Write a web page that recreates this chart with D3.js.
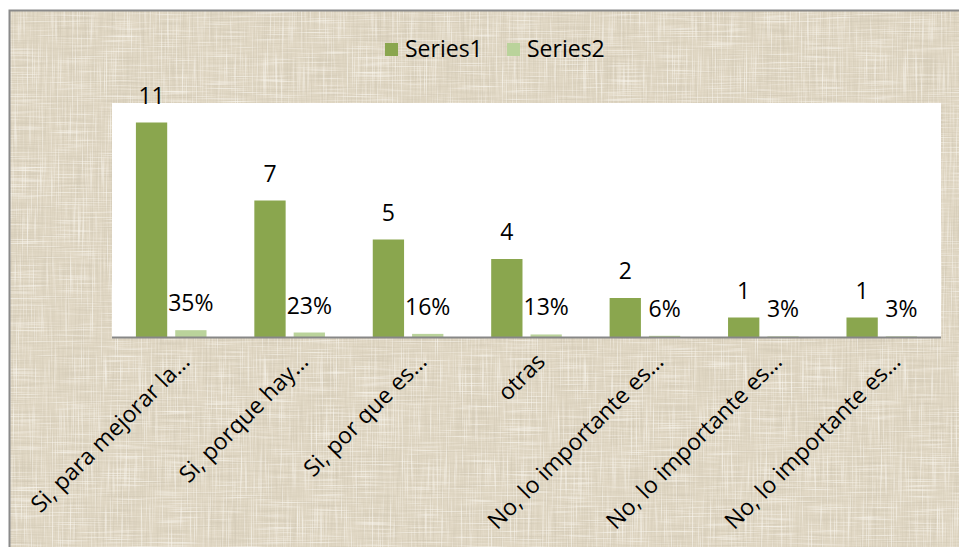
<!DOCTYPE html>
<html>
<head>
<meta charset="utf-8">
<script src="https://cdn.jsdelivr.net/npm/d3@7"></script>
<style>
  html, body { margin: 0; padding: 0; background: #ffffff; }
  svg { display: block; }
  text { font-family: "Open Sans", "Lato", sans-serif; fill: #000; }
</style>
</head>
<body>
<svg id="chart" width="959" height="547"></svg>
<script>
// Chart data
const categories = [
  "Si, para mejorar la…",
  "Si, porque hay…",
  "Si, por que es…",
  "otras",
  "No, lo importante es…",
  "No, lo importante es…",
  "No, lo importante es…"
];
const seriesNames = ["Series1", "Series2"];
const series1 = [11, 7, 5, 4, 2, 1, 1];
const series2 = [0.35, 0.23, 0.16, 0.13, 0.06, 0.03, 0.03];
const yDomain = [0, 12];

const colors = { Series1: "#8aa64e", Series2: "#bad39b" };

const W = 959, H = 547;
const plot = { left: 112, right: 941, top: 103, bottom: 337 };
const fontSize = "23px";

const svg = d3.select("#chart");
const defs = svg.append("defs");

// Woven linen texture for the chart area
const f = defs.append("filter").attr("id", "linen")
  .attr("x", 0).attr("y", 0).attr("width", 1).attr("height", 1);
f.append("feTurbulence").attr("type", "fractalNoise")
  .attr("baseFrequency", "0.02 0.8").attr("numOctaves", 2).attr("seed", 4).attr("result", "nh");
f.append("feTurbulence").attr("type", "fractalNoise")
  .attr("baseFrequency", "0.8 0.02").attr("numOctaves", 2).attr("seed", 9).attr("result", "nv");
// darker threads
const dark = "0 0 0 0 0.64  0 0 0 0 0.58  0 0 0 0 0.46  2.0 0 0 0 -0.98";
// lighter threads
const light = "0 0 0 0 0.97  0 0 0 0 0.95  0 0 0 0 0.90  -1.9 0 0 0 0.86";
f.append("feColorMatrix").attr("in", "nh").attr("type", "matrix").attr("values", dark).attr("result", "dh");
f.append("feColorMatrix").attr("in", "nv").attr("type", "matrix").attr("values", dark).attr("result", "dv");
f.append("feColorMatrix").attr("in", "nh").attr("type", "matrix").attr("values", light).attr("result", "lh");
f.append("feColorMatrix").attr("in", "nv").attr("type", "matrix").attr("values", light).attr("result", "lv");
const merge = f.append("feMerge");
["SourceGraphic", "dh", "dv", "lh", "lv"].forEach(n => merge.append("feMergeNode").attr("in", n));

// Chart area background with border
svg.append("rect")
  .attr("x", 9).attr("y", 10).attr("width", W).attr("height", H)
  .attr("fill", "#e1d8c5")
  .attr("filter", "url(#linen)");
svg.append("rect")
  .attr("x", 9.5).attr("y", 10.5).attr("width", W).attr("height", H)
  .attr("fill", "none").attr("stroke", "#8a8a8a").attr("stroke-width", 2);

// Plot area
svg.append("rect")
  .attr("x", plot.left).attr("y", plot.top)
  .attr("width", plot.right - plot.left).attr("height", plot.bottom - plot.top)
  .attr("fill", "#ffffff");

// Scales
const x0 = d3.scaleBand().domain(d3.range(categories.length))
  .range([plot.left, plot.right]).padding(0);
const x1 = d3.scaleBand().domain(seriesNames)
  .range([0, x0.bandwidth()]).paddingInner(0.204).paddingOuter(0.608);
const y = d3.scaleLinear().domain(yDomain).range([plot.bottom, plot.top]);

const rows = categories.map((c, i) => ({ i, c, Series1: series1[i], Series2: series2[i] }));
const pct = d3.format(".0%");

// Bars
const groups = svg.append("g").selectAll("g").data(rows).join("g")
  .attr("transform", d => `translate(${x0(d.i)},0)`);

groups.selectAll("rect").data(d => seriesNames.map(s => ({ s, v: d[s] }))).join("rect")
  .attr("x", d => x1(d.s))
  .attr("y", d => y(d.v))
  .attr("width", x1.bandwidth())
  .attr("height", d => y(0) - y(d.v))
  .attr("fill", d => colors[d.s]);

// Value labels
groups.selectAll("text.val").data(d => seriesNames.map(s => ({ s, v: d[s] }))).join("text")
  .attr("class", "val")
  .attr("x", d => x1(d.s) + x1.bandwidth() / 2)
  .attr("y", d => y(d.v) - 19)
  .attr("text-anchor", "middle")
  .style("font-size", fontSize)
  .text(d => d.s === "Series1" ? d.v : pct(d.v));

// Category axis line
svg.append("line")
  .attr("x1", plot.left).attr("x2", plot.right)
  .attr("y1", y(0) + 0.5).attr("y2", y(0) + 0.5)
  .attr("stroke", "#878787").attr("stroke-width", 2);

// Rotated category labels
svg.append("g").selectAll("text").data(rows).join("text")
  .attr("transform", d => `translate(${x0(d.i) + x0.bandwidth() / 2 + 20},${363}) rotate(-45)`)
  .attr("text-anchor", "end")
  .style("font-size", fontSize)
  .text(d => d.c);

// Legend
const legend = svg.append("g");
const legendItems = [
  { s: "Series1", x: 385 },
  { s: "Series2", x: 507 }
];
legendItems.forEach(it => {
  legend.append("rect")
    .attr("x", it.x).attr("y", 43).attr("width", 13).attr("height", 13)
    .attr("fill", colors[it.s]);
  legend.append("text")
    .attr("x", it.x + 20).attr("y", 57)
    .style("font-size", fontSize)
    .text(it.s);
});
</script>
</body>
</html>
